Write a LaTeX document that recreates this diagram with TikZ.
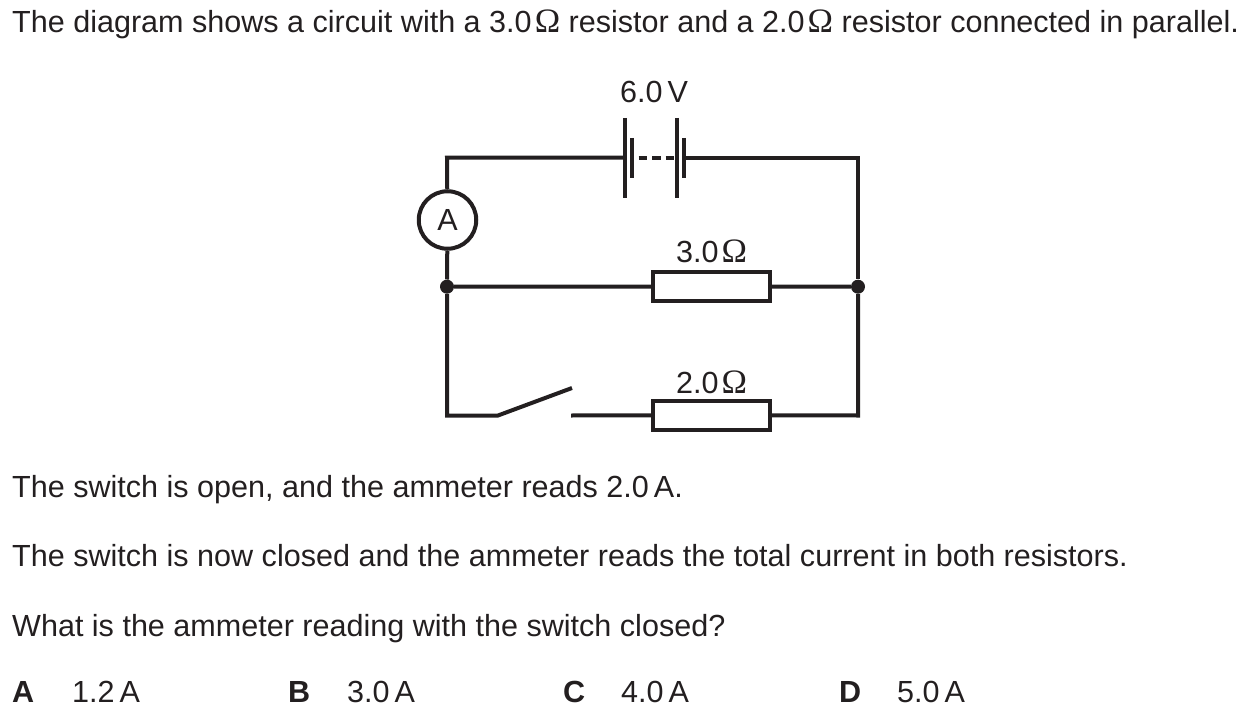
\documentclass[tikz,border=0pt]{standalone}
\usepackage{fontspec}
\setmainfont{Liberation Sans}
\newfontfamily\sym[Scale=1.12]{Liberation Serif}
\def\Om{\kern3pt{\sym Ω}}
\definecolor{ink}{HTML}{231F20}
\begin{document}
\begin{tikzpicture}[x=1pt,y=-1pt,
  wire/.style={line width=4pt,draw=ink,line cap=butt,line join=miter},
  txt/.style={inner sep=0pt,anchor=base west,font=\fontsize{30.55}{34}\selectfont,text=ink},
  res/.style={draw=ink,line width=4pt,fill=white,minimum width=116.5pt,minimum height=28.5pt,inner sep=0pt},
  dot/.style={circle,fill=ink,minimum size=14pt,inner sep=0pt},
  meter/.style={circle,draw=ink,line width=4pt,fill=white,minimum size=57.5pt,inner sep=0pt,font=\fontsize{30.55}{34}\selectfont,text=ink}]
\useasboundingbox (0,0) rectangle (1243,714);
\node[txt] (t1) at (12,33) {The diagram shows a circuit with a 3.0\Om{} resistor and a 2.0\Om{} resistor connected in parallel.};
\coordinate (tl) at (447,157.7);
\coordinate (tr) at (858,157.7);
\coordinate (bl) at (447,415.5);
\coordinate (br) at (858,415.5);
\node[dot] (jl) at (447,286.7) {};
\node[dot] (jr) at (858,286.7) {};
\node[meter] (am) at (447.5,220) {A};
\node[res] (r1) at (711.7,286.5) {};
\node[res] (r2) at (711.7,415.4) {};
\coordinate (b1) at (625,157.7);
\coordinate (b2) at (634.7,157.7);
\coordinate (b3) at (675,157.7);
\coordinate (b4) at (686,157.7);
\coordinate (s1) at (498,415.5);
\coordinate (s2) at (572,388);
\coordinate (s3) at (571,415.5);
\draw[wire] (am) -- (tl) -- (b1);
\draw[wire] (b4) -- (tr) -- (jr);
\draw[wire] (am) -- (jl);
\draw[wire] (jl) -- (r1) (r1) -- (jr);
\draw[wire] (jl) -- (bl) -- (s1) -- (s2);
\draw[wire] (s3) -- (r2);
\draw[wire] (r2) -- (br) -- (jr);
\draw[wire] (625,118) -- (625,198);
\draw[wire] (632,138) -- (632,178);
\draw[wire] (677,118) -- (677,198);
\draw[wire] (684,138) -- (684,178);
\draw[wire,dash pattern=on 8.3pt off 5.2pt,dash phase=9.5pt] (b2) -- (b3);
\node[txt] (v) at (620,103) {6.0\,V};
\node[txt] (l1) at (676,262) {3.0\Om};
\node[txt] (l2) at (676,393) {2.0\Om};
\node[txt] (t2) at (12,497) {The switch is open, and the ammeter reads 2.0\,A.};
\node[txt] (t3) at (12,566) {The switch is now closed and the ammeter reads the total current in both resistors.};
\node[txt] (t4) at (12,636) {What is the ammeter reading with the switch closed?};
\node[txt] (a) at (12,702) {\textbf{A}};
\node[txt] (av) at (72,702) {1.2\,A};
\node[txt] (b) at (288,702) {\textbf{B}};
\node[txt] (bv) at (347,702) {3.0\,A};
\node[txt] (c) at (563,702) {\textbf{C}};
\node[txt] (cv) at (621,702) {4.0\,A};
\node[txt] (d) at (839,702) {\textbf{D}};
\node[txt] (dv) at (897,702) {5.0\,A};
\end{tikzpicture}
\end{document}
